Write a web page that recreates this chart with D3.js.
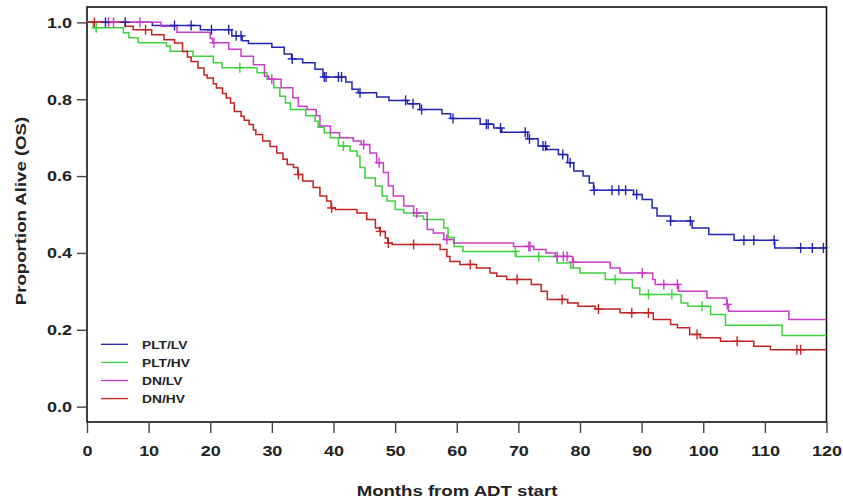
<!DOCTYPE html>
<html>
<head>
<meta charset="utf-8">
<script src="https://cdn.jsdelivr.net/npm/d3@7"></script>
<style>
  html, body { margin: 0; padding: 0; background: #fff; }
  svg { display: block; }
  text { font-family: "Liberation Sans", Arial, Helvetica, sans-serif; font-weight: bold; fill: #222; }
</style>
</head>
<body>
<script>
// ---------- DATA ----------
const seriesNames = ["PLT/LV", "PLT/HV", "DN/LV", "DN/HV"];
const xTickValues = [0, 10, 20, 30, 40, 50, 60, 70, 80, 90, 100, 110, 120];
const yTickValues = [0.0, 0.2, 0.4, 0.6, 0.8, 1.0];

// PLT/LV (blue)
const pltLvTimes = [10.6, 18.4, 23.5, 25.2, 26.2, 30, 32, 33.2, 35, 37, 38.3, 42, 43, 44, 47, 49, 52, 54, 57.6, 59, 63.8, 66, 67.3, 71.5, 73.2, 74.6, 76.5, 78, 79, 80.5, 81.5, 82.2, 88.7, 90.1, 91.7, 92.5, 94.7, 98.2, 100.9, 105, 111.6];
const pltLvSurv  = [0.992, 0.981, 0.965, 0.952, 0.945, 0.935, 0.918, 0.905, 0.895, 0.878, 0.858, 0.845, 0.826, 0.817, 0.806, 0.797, 0.788, 0.773, 0.762, 0.750, 0.735, 0.725, 0.714, 0.697, 0.678, 0.669, 0.656, 0.635, 0.613, 0.600, 0.582, 0.563, 0.552, 0.539, 0.517, 0.496, 0.483, 0.465, 0.448, 0.433, 0.413];
const pltLvCensor = [3, 6.2, 14.2, 16.9, 20.2, 23.0, 24.2, 25.0, 33.3, 38.5, 38.8, 40.8, 41.3, 44.3, 51.7, 52.9, 54.3, 59.4, 64.8, 65.1, 67.1, 71.1, 71.8, 74.0, 74.4, 77.2, 78.4, 82.3, 85.2, 86.3, 87.4, 89.2, 94.7, 97.9, 106.6, 108.2, 111.5, 115.8, 117.7, 119.5];

// PLT/HV (green)
const pltHvTimes = [1.0, 5.9, 6.8, 8.3, 12.9, 13.5, 17.2, 20.5, 21.9, 27.6, 29.2, 30.3, 31.3, 32.2, 33.0, 35.5, 37.0, 37.5, 38.5, 39.5, 40.8, 42.7, 43.8, 44.3, 45.1, 46.8, 47.9, 48.7, 50.0, 51.4, 53.0, 54.6, 57.9, 58.6, 59.6, 61.0, 69.6, 76.3, 78.5, 80.0, 84.1, 88.5, 89.7, 96.4, 97.5, 101.2, 103.6, 112.8];
const pltHvSurv  = [0.986, 0.973, 0.960, 0.947, 0.938, 0.925, 0.912, 0.895, 0.882, 0.869, 0.852, 0.830, 0.808, 0.790, 0.773, 0.757, 0.743, 0.727, 0.713, 0.700, 0.678, 0.665, 0.652, 0.622, 0.595, 0.574, 0.548, 0.535, 0.513, 0.504, 0.496, 0.487, 0.465, 0.440, 0.417, 0.404, 0.391, 0.374, 0.361, 0.348, 0.331, 0.309, 0.292, 0.270, 0.261, 0.240, 0.212, 0.185];
const pltHvCensor = [1.5, 24.8, 41.6, 69.5, 73.3, 85.7, 91.1, 94.9, 99.8];

// DN/LV (magenta)
const dnLvTimes = [12, 14.6, 20.0, 20.4, 23.0, 25.0, 27.0, 28.8, 29.5, 31.5, 33.4, 34.3, 35.7, 37.2, 37.8, 39.5, 41.0, 43.2, 44.5, 45.9, 47.0, 48.1, 48.9, 49.7, 51.4, 53.0, 55.2, 56.2, 57.9, 59.5, 69.2, 72.5, 74.5, 76.0, 78.8, 84.9, 86.5, 91.8, 92.2, 96.0, 100.6, 103.8, 104.1, 113.9];
const dnLvSurv  = [0.990, 0.974, 0.958, 0.947, 0.930, 0.912, 0.890, 0.860, 0.852, 0.830, 0.804, 0.782, 0.773, 0.757, 0.730, 0.713, 0.700, 0.691, 0.682, 0.660, 0.635, 0.609, 0.574, 0.548, 0.522, 0.504, 0.461, 0.452, 0.435, 0.426, 0.417, 0.409, 0.400, 0.391, 0.376, 0.361, 0.348, 0.331, 0.318, 0.300, 0.283, 0.266, 0.248, 0.227];
const dnLvCensor = [3.5, 4.3, 8.6, 20.6, 30.0, 44.9, 47.4, 53.5, 58.4, 71.7, 71.9, 76.3, 77.3, 77.9, 78.9, 90.1, 93.6, 95.8, 103.9];

// DN/HV (red)
const dnHvTimes = [6.2, 7.5, 10.5, 12.5, 14.2, 15.5, 16.3, 16.9, 18.0, 19.0, 19.5, 20.5, 21.0, 22.0, 22.6, 23.3, 23.9, 25.0, 25.5, 26.3, 27.0, 27.4, 28.5, 29.7, 30.8, 31.8, 32.5, 33.5, 34.2, 35.0, 36.7, 37.8, 38.9, 39.6, 40.3, 43.8, 45.4, 46.8, 47.5, 48.4, 48.8, 49.5, 57.3, 58.4, 58.9, 60.5, 63.2, 65.4, 66.5, 68.1, 72.1, 73.7, 74.7, 78.0, 79.7, 82.5, 86.5, 91.9, 94.7, 95.8, 97.8, 99.5, 102.8, 108.2, 110.9];
const dnHvSurv  = [0.990, 0.981, 0.968, 0.955, 0.946, 0.924, 0.910, 0.898, 0.881, 0.863, 0.855, 0.840, 0.829, 0.815, 0.803, 0.790, 0.768, 0.756, 0.745, 0.734, 0.720, 0.708, 0.691, 0.677, 0.660, 0.644, 0.630, 0.622, 0.604, 0.587, 0.570, 0.548, 0.535, 0.517, 0.513, 0.504, 0.487, 0.465, 0.456, 0.439, 0.426, 0.422, 0.409, 0.391, 0.378, 0.370, 0.361, 0.348, 0.339, 0.331, 0.318, 0.300, 0.279, 0.270, 0.261, 0.254, 0.244, 0.227, 0.214, 0.205, 0.188, 0.179, 0.170, 0.157, 0.148];
const dnHvCensor = [1.2, 9.5, 34.3, 39.7, 47.6, 48.9, 53.0, 62.2, 69.8, 77.1, 83.0, 88.4, 91.1, 99.0, 105.5, 115.2, 115.8];

// ---------- LAYOUT ----------
const W = 843, H = 500;
const colors = ["#2424b2", "#3fd23f", "#c93ec9", "#c42222"];
const SX = 1.2; // horizontal stretch of the text in the reference

const series = [
  { name: seriesNames[0], times: pltLvTimes, surv: pltLvSurv, censor: pltLvCensor, color: colors[0] },
  { name: seriesNames[1], times: pltHvTimes, surv: pltHvSurv, censor: pltHvCensor, color: colors[1] },
  { name: seriesNames[2], times: dnLvTimes,  surv: dnLvSurv,  censor: dnLvCensor,  color: colors[2] },
  { name: seriesNames[3], times: dnHvTimes,  surv: dnHvSurv,  censor: dnHvCensor,  color: colors[3] }
];

const svg = d3.select("body").append("svg").attr("width", W).attr("height", H);

const x = d3.scaleLinear().domain([0, 120]).range([87, 826.5]);
const y = d3.scaleLinear().domain([-0.04, 1.04]).range([422, 7]);

// frame
svg.append("rect")
  .attr("x", x(0)).attr("y", y(1.04))
  .attr("width", x(120) - x(0)).attr("height", y(-0.04) - y(1.04))
  .attr("fill", "none").attr("stroke", "#111").attr("stroke-width", 1.6);

// axes
const yAxis = svg.append("g")
  .attr("transform", `translate(${x(0)},0)`)
  .call(d3.axisLeft(y).tickValues(yTickValues).tickFormat(d3.format(".1f")).tickSize(10).tickSizeOuter(0).tickPadding(5));
yAxis.select(".domain").remove();
yAxis.selectAll(".tick line").attr("stroke", "#444").attr("stroke-width", 1.4);
yAxis.selectAll(".tick text").each(function () {
  const t = d3.select(this);
  const xx = +t.attr("x");
  t.attr("x", 0).attr("transform", `translate(${xx},0) scale(${SX},1)`);
}).style("font-size", "15px").style("font-family", "Liberation Sans, Arial, sans-serif").style("font-weight", "bold").attr("fill", "#222");

const xAxis = svg.append("g")
  .attr("transform", `translate(0,${y(-0.04)})`)
  .call(d3.axisBottom(x).tickValues(xTickValues).tickFormat(d3.format("d")).tickSize(11).tickSizeOuter(0).tickPadding(12));
xAxis.select(".domain").remove();
xAxis.selectAll(".tick line").attr("stroke", "#444").attr("stroke-width", 1.4);
xAxis.selectAll(".tick text").attr("transform", `scale(${SX},1)`)
  .style("font-size", "15px").style("font-family", "Liberation Sans, Arial, sans-serif").style("font-weight", "bold").attr("fill", "#222");

// axis titles
svg.append("text")
  .attr("transform", `translate(457,496) scale(${SX},1)`)
  .attr("text-anchor", "middle").style("font-size", "15.5px")
  .text("Months from ADT start");
svg.append("text")
  .attr("transform", `translate(26,211) rotate(-90) scale(${SX},1)`)
  .attr("text-anchor", "middle").style("font-size", "15.5px")
  .text("Proportion Alive (OS)");

// curves
const line = d3.line().x(d => x(d[0])).y(d => y(d[1])).curve(d3.curveStepAfter);
function survAt(s, t) {
  let v = 1;
  for (let i = 0; i < s.times.length; i++) if (s.times[i] <= t) v = s.surv[i];
  return v;
}
const plot = svg.append("g");
series.forEach(s => {
  const pts = [[0, 1]].concat(s.times.map((t, i) => [t, s.surv[i]]));
  pts.push([120, s.surv[s.surv.length - 1]]);
  plot.append("path").attr("d", line(pts))
    .attr("fill", "none").attr("stroke", s.color).attr("stroke-width", 1.5);
});
// censor marks drawn on top, in reverse order so blue is on top
[...series].reverse().forEach(s => {
  const g = plot.append("g").attr("stroke", s.color).attr("stroke-width", 1.4);
  s.censor.forEach(t => {
    const cx = x(t), cy = y(survAt(s, t));
    g.append("line").attr("x1", cx).attr("x2", cx).attr("y1", cy - 5).attr("y2", cy + 5);
    g.append("line").attr("x1", cx - 4.5).attr("x2", cx + 4.5).attr("y1", cy).attr("y2", cy);
  });
});

// legend
const legend = svg.append("g");
series.forEach((s, i) => {
  const ly = 344.3 + i * 18.1;
  legend.append("line").attr("x1", 101).attr("x2", 128).attr("y1", ly).attr("y2", ly)
    .attr("stroke", s.color).attr("stroke-width", 1.3);
  legend.append("text").attr("transform", `translate(142,${ly + 4.2}) scale(${SX},1)`)
    .style("font-size", "11.5px").text(s.name);
});
</script>
</body>
</html>
